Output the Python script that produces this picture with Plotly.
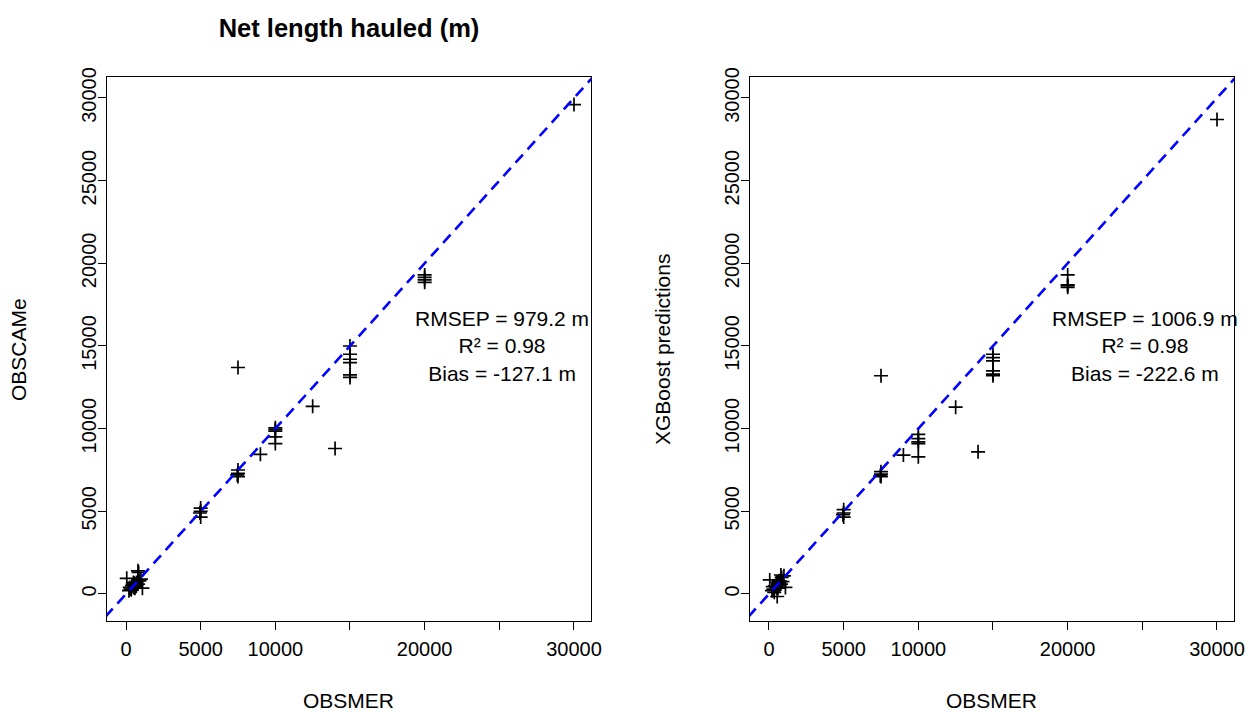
import plotly.graph_objects as go

# ---- data ----
obsmer = [50, 800, 850, 900, 1100, 300, 400, 500, 600, 500, 700, 200, 350, 600, 700, 450, 550, 250, 1000, 800, 650,
          5000, 5000, 4950, 5000,
          7500, 7500, 7450, 7500, 7500,
          9000,
          10000, 10000, 10000, 10000, 10000,
          12500,
          14000,
          15000, 15000, 15000, 15000, 15000, 15000,
          20000, 20000, 20000, 20000,
          30000]
obscame = [950, 1400, 1300, 800, 350, 300, 500, 400, 600, 700, 500, 200, 250, 350, 700, 550, 650, 400, 900, 600, 450,
           5200, 5000, 4900, 4650,
           7500, 7300, 7200, 7100, 13700,
           8450,
           10050, 9950, 9850, 9500, 9100,
           11350,
           8800,
           15000, 14500, 14200, 14000, 13250, 13100,
           19300, 19150, 19000, 18850,
           29600]
xgb = [850, 1150, 1000, 750, 400, 300, 500, 400, 600, 700, 500, 200, 100, 350, 800, 450, -150, 450, 1100, 600, 650,
       5100, 4900, 4800, 4650,
       7400, 7250, 7150, 7100, 13200,
       8400,
       9650, 9400, 9200, 9100, 8300,
       11300,
       8600,
       14500, 14300, 14100, 13500, 13300, 13200,
       19300, 18700, 18650, 18550,
       28700]

x_tick_vals = [0, 5000, 10000, 15000, 20000, 25000, 30000]
x_tick_text = ["0", "5000", "10000", "", "20000", "", "30000"]
y_tick_vals = [0, 5000, 10000, 15000, 20000, 25000, 30000]
y_tick_text = ["0", "5000", "10000", "15000", "20000", "25000", "30000"]

stats_left = ["RMSEP = 979.2 m", "R² = 0.98", "Bias = -127.1 m"]
stats_right = ["RMSEP = 1006.9 m", "R² = 0.98", "Bias = -222.6 m"]
identity = [-3000, 34000]

FONT = "Liberation Sans, Arial, sans-serif"
FS = 20
FS_TXT = 21

fig = go.Figure()

for xa, ya, yvals in [("x", "y", obscame), ("x2", "y2", xgb)]:
    fig.add_trace(go.Scatter(
        x=obsmer, y=yvals, mode="markers", xaxis=xa, yaxis=ya,
        marker=dict(symbol="cross-thin", size=10, color="black",
                    line=dict(color="black", width=1.7)),
        showlegend=False, hoverinfo="x+y"))
    fig.add_trace(go.Scatter(
        x=identity, y=identity, mode="lines", xaxis=xa, yaxis=ya,
        line=dict(color="#0000FF", width=2.6, dash="11px,7px"),
        showlegend=False, hoverinfo="skip"))

xr = [-1272, 31139]
yr = [-1633, 31270]
axis_common = dict(showline=True, mirror=True, linecolor="black", linewidth=1,
                   ticks="outside", ticklen=8, tickwidth=1, tickcolor="black",
                   showgrid=False, zeroline=False, automargin=False,
                   tickfont=dict(family=FONT, size=FS, color="black"))

ydom = [0.13025, 0.89216]
fig.update_layout(
    width=1249, height=714,
    margin=dict(l=0, r=0, t=0, b=0, autoexpand=False),
    paper_bgcolor="white", plot_bgcolor="white",
    xaxis=dict(domain=[0.08567, 0.47318], range=xr, anchor="y", ticklabelstandoff=2,
               tickvals=x_tick_vals, ticktext=x_tick_text, **axis_common),
    yaxis=dict(domain=ydom, range=yr, anchor="x", ticklabelstandoff=-6,
               tickvals=y_tick_vals, ticktext=y_tick_text, tickangle=-90, **axis_common),
    xaxis2=dict(domain=[0.60048, 0.98799], range=xr, anchor="y2", ticklabelstandoff=2,
                tickvals=x_tick_vals, ticktext=x_tick_text, **axis_common),
    yaxis2=dict(domain=ydom, range=yr, anchor="x2", ticklabelstandoff=-6,
                tickvals=y_tick_vals, ticktext=y_tick_text, tickangle=-90, **axis_common),
    title=dict(text="<b>Net length hauled (m)</b>", x=0.2794, y=0.9608,
               xanchor="center", yanchor="middle",
               font=dict(family=FONT, size=25.5, color="black")),
)

annots = []
# stats text
for xref, yref, lines in [("x", "y", stats_left), ("x2", "y2", stats_right)]:
    annots.append(dict(x=25150, y=15000, xref=xref, yref=yref,
                       text="<br>".join(lines), showarrow=False, align="center",
                       xanchor="center", yanchor="middle",
                       font=dict(family=FONT, size=FS_TXT, color="black")))
# axis titles
annots += [
    dict(x=0.2794, y=0.0, xref="paper", yref="paper", text="OBSMER", showarrow=False,
         xanchor="center", yanchor="bottom", font=dict(family=FONT, size=FS_TXT, color="black")),
    dict(x=0.7942, y=0.0, xref="paper", yref="paper", text="OBSMER", showarrow=False,
         xanchor="center", yanchor="bottom", font=dict(family=FONT, size=FS_TXT, color="black")),
    dict(x=0.0144, y=0.5112, xref="paper", yref="paper", text="OBSCAMe", showarrow=False,
         textangle=-90, xanchor="center", yanchor="middle",
         font=dict(family=FONT, size=FS_TXT, color="black")),
    dict(x=0.530, y=0.5112, xref="paper", yref="paper", text="XGBoost predictions", showarrow=False,
         textangle=-90, xanchor="center", yanchor="middle",
         font=dict(family=FONT, size=FS_TXT, color="black")),
]
fig.update_layout(annotations=annots)

fig.write_html("out.html")
